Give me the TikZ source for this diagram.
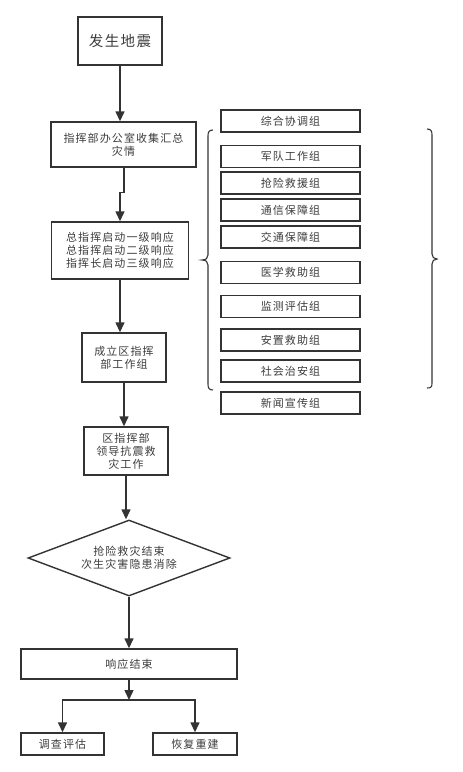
\documentclass[tikz,border=0pt]{standalone}
\usepackage{fontspec}
\setmainfont{Noto Sans CJK SC}[LetterSpace=10]
\usetikzlibrary{arrows.meta,shapes.geometric}
\definecolor{ln}{HTML}{333333}
\definecolor{txt}{HTML}{3c3c3c}
\begin{document}
\begin{tikzpicture}[x=1pt,y=-1pt,
  every node/.style={font=\fontsize{11}{13}\selectfont, text=txt},
  box/.style={draw=ln, line width=1.4pt, inner sep=0pt, align=center},
  dia/.style={draw=ln, line width=1.4pt, diamond, aspect=2.66, minimum width=202pt, minimum height=76pt, inner sep=0pt, align=center},
  arr/.style={draw=ln, line width=1.4pt, -{Triangle[length=10pt,width=9pt]}},
  grp/.style={box, minimum width=139pt, minimum height=22pt},
  brc/.style={draw=ln, line width=1.1pt}]
\useasboundingbox (0,0) rectangle (463,772);
% main chain
\node[box, minimum width=84pt, minimum height=48pt, font=\fontsize{14.5}{17}\selectfont] (b1) at (120,41) {发生地震};
\node[box, minimum width=145pt, minimum height=45pt] (b2) at (123.5,144.5) {指挥部办公室收集汇总\\灾情};
\node[box, minimum width=137pt, minimum height=57pt] (b3) at (120,250.5) {总指挥启动一级响应\\总指挥启动二级响应\\指挥长启动三级响应};
\node[box, minimum width=84pt, minimum height=49pt] (b4) at (124,357.5) {成立区指挥\\部工作组};
\node[box, minimum width=84pt, minimum height=48pt] (b5) at (126,451) {区指挥部\\领导抗震救\\灾工作};
\node[dia] (d) at (129,558) {抢险救灾结束\\次生灾害隐患消除};
\node[box, minimum width=216pt, minimum height=30pt] (resp) at (129,664) {响应结束};
\node[box, minimum width=83pt, minimum height=22pt] (e1) at (62.5,744) {调查评估};
\node[box, minimum width=84pt, minimum height=22pt] (e2) at (195,744) {恢复重建};
% groups
\node[grp] (g1) at (290.5,121) {综合协调组};
\node[grp] (g2) at (290.5,156.5) {军队工作组};
\node[grp] (g3) at (290.5,183) {抢险救援组};
\node[grp] (g4) at (290.5,210) {通信保障组};
\node[grp] (g5) at (290.5,237) {交通保障组};
\node[grp] (g6) at (290.5,272.5) {医学救助组};
\node[grp] (g7) at (290.5,306.5) {监测评估组};
\node[grp] (g8) at (290.5,340) {安置救助组};
\node[grp] (g9) at (290.5,371) {社会治安组};
\node[grp] (g10) at (290.5,403) {新闻宣传组};
% connectors
\draw[arr] (b1.south) -- (b1.south |- b2.north);
\draw[arr] ([xshift=0.5pt]b2.south) -- ++(0,25) -| (b3.north);
\draw[arr] (b3.south) -- (b3.south |- b4.north);
\draw[arr] (b4.south) -- (b4.south |- b5.north);
\draw[arr] (b5.south) -- (b5.south |- d.north);
\draw[arr] (d.south) -- (resp.north);
\coordinate (j) at (129,700);
\draw[arr] (resp.south) -- (j);
\draw[arr] (j) -| (e1.north);
\draw[arr] (j) -| (e2.north);
% braces
\draw[brc] (213,130) .. controls (209,130) and (208,132) .. (208,136) -- (208,255)
  .. controls (208,258) and (206,260) .. (202,260)
  .. controls (206,260) and (208,262) .. (208,265) -- (208,384)
  .. controls (208,388) and (209,390) .. (213,390);
\draw[brc] (427,129) .. controls (431,129) and (432,131) .. (432,135) -- (432,254)
  .. controls (432,257) and (434,259) .. (437,259)
  .. controls (434,259) and (432,261) .. (432,264) -- (432,383)
  .. controls (432,387) and (431,388) .. (427,388);
\end{tikzpicture}
\end{document}
